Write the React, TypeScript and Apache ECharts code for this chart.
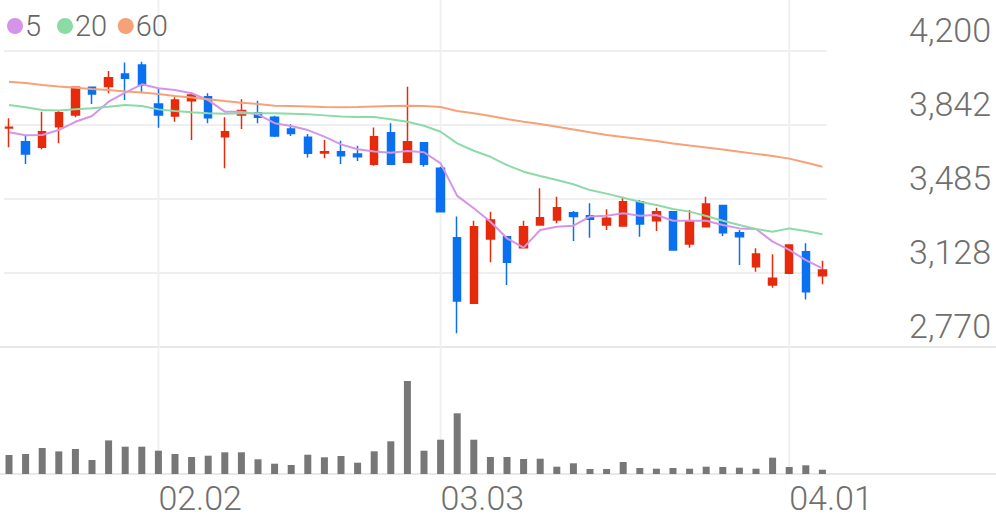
import React, { useEffect, useRef } from "react";
import * as echarts from "echarts";

// ---- data ----
const dates = [
  "01.20", "01.21", "01.22", "01.23", "01.26", "01.27", "01.28", "01.29", "01.30",
  "02.02", "02.03", "02.04", "02.05", "02.06", "02.09", "02.10", "02.11", "02.12", "02.13",
  "02.19", "02.20", "02.23", "02.24", "02.25", "02.26", "02.27",
  "03.03", "03.04", "03.05", "03.06", "03.09", "03.10", "03.11", "03.12", "03.13",
  "03.16", "03.17", "03.18", "03.19", "03.20", "03.23", "03.24", "03.25", "03.26", "03.27",
  "03.30", "03.31", "04.01", "04.02", "04.03",
];
const labelDates = ["02.02", "03.03", "04.01"];

const opens = [
  3828, 3762, 3735, 3834, 3891, 4025, 4028, 4089, 4132, 3944,
  3886, 3960, 3979, 3786, 3891, 3902, 3880, 3823, 3783, 3707,
  3713, 3702, 3653, 3805, 3662, 3757, 3633, 3298, 2981, 3292,
  3303, 3250, 3359, 3384, 3419, 3404, 3359, 3355, 3472, 3380,
  3424, 3268, 3351, 3453, 3322, 3158, 3070, 3126, 3230, 3114,
];
const closes = [
  3832, 3702, 3810, 3902, 4025, 3992, 4071, 4068, 4036, 3891,
  3963, 3987, 3878, 3810, 3912, 3880, 3789, 3802, 3706, 3713,
  3694, 3689, 3786, 3653, 3762, 3653, 3424, 2992, 3351, 3384,
  3179, 3351, 3395, 3443, 3400, 3387, 3392, 3472, 3364, 3424,
  3239, 3380, 3461, 3322, 3303, 3219, 3102, 3263, 3037, 3142,
];
const lows = [
  3735, 3654, 3725, 3754, 3880, 3944, 3996, 3963, 3996, 3829,
  3858, 3770, 3851, 3633, 3823, 3851, 3785, 3789, 3686, 3682,
  3654, 3669, 3646, 3650, 3660, 3641, 3420, 2836, 2979, 3179,
  3070, 3248, 3357, 3368, 3282, 3298, 3335, 3353, 3303, 3330,
  3237, 3250, 3350, 3306, 3166, 3134, 3056, 3125, 3000, 3073,
];
const highs = [
  3875, 3794, 3907, 3912, 4027, 4025, 4103, 4145, 4148, 4020,
  3976, 3999, 3996, 3880, 3967, 3960, 3887, 3846, 3799, 3770,
  3767, 3742, 3831, 3851, 4027, 3760, 3641, 3400, 3380, 3424,
  3305, 3380, 3537, 3496, 3427, 3464, 3435, 3496, 3480, 3443,
  3426, 3432, 3496, 3456, 3335, 3247, 3218, 3266, 3271, 3187,
];
const ma5 = [
  3807, 3793, 3794, 3818, 3858, 3886, 3955, 3999, 4039, 4020,
  4012, 3996, 3963, 3907, 3907, 3894, 3851, 3838, 3818, 3786,
  3749, 3725, 3714, 3709, 3717, 3711, 3657, 3500, 3440, 3375,
  3295, 3250, 3335, 3351, 3356, 3400, 3404, 3416, 3404, 3408,
  3380, 3380, 3380, 3359, 3343, 3340, 3279, 3239, 3190, 3150,
];
const ma20 = [
  3939, 3928, 3915, 3912, 3918, 3923, 3931, 3939, 3934, 3918,
  3910, 3904, 3899, 3897, 3899, 3899, 3899, 3897, 3894, 3889,
  3883, 3881, 3881, 3870, 3858, 3839, 3810, 3754, 3718, 3689,
  3649, 3617, 3596, 3577, 3556, 3528, 3511, 3491, 3472, 3456,
  3437, 3424, 3403, 3380, 3359, 3340, 3327, 3343, 3330, 3315,
];
const ma60 = [
  4052, 4045, 4036, 4028, 4023, 4016, 4012, 4004, 3999, 3992,
  3983, 3975, 3967, 3958, 3950, 3944, 3936, 3934, 3932, 3929,
  3928, 3929, 3932, 3934, 3936, 3934, 3929, 3910, 3899, 3886,
  3871, 3858, 3847, 3834, 3821, 3807, 3794, 3785, 3775, 3765,
  3753, 3743, 3734, 3724, 3713, 3703, 3693, 3680, 3661, 3641,
];
const volumes = [
  190, 200, 260, 226, 250, 140, 336, 273, 273, 233,
  200, 170, 183, 217, 217, 147, 103, 90, 193, 167,
  180, 113, 227, 327, 930, 233, 343, 607, 343, 170,
  170, 150, 153, 73, 107, 50, 50, 120, 60, 53,
  60, 53, 73, 70, 63, 53, 163, 70, 87, 43,
];
const yTickLabels = ["2,770", "3,128", "3,485", "3,842", "4,200"];
const yMin = 2770;
const yMax = 4200;
const yInterval = 357.5;

// ---- styles ----
const UP = "#e62a0c";
const DOWN = "#0a70ef";
const MA_COLORS = ["#d495e9", "#8cdba6", "#f7a178"];
const FONT = "Roboto, 'Noto Sans', sans-serif";
const LABEL_COLOR = "#6f6f6f";

export default function App() {
  const ref = useRef<HTMLDivElement>(null);

  useEffect(() => {
    if (!ref.current) return;
    const chart = echarts.init(ref.current, undefined, { renderer: "svg" });
    const L = 0.7;
    const R = 996 - 830.7;

    const maSeries = [
      { name: "5", data: ma5, color: MA_COLORS[0] },
      { name: "20", data: ma20, color: MA_COLORS[1] },
      { name: "60", data: ma60, color: MA_COLORS[2] },
    ].map((m) => ({
      type: "line",
      name: m.name,
      xAxisIndex: 0,
      yAxisIndex: 0,
      data: m.data,
      symbol: "none",
      showSymbol: false,
      lineStyle: { color: m.color, width: 2 },
      itemStyle: { color: m.color },
      z: 5,
      silent: true,
    }));

    const legendPos: [string, number][] = [
      ["5", 2],
      ["20", 52],
      ["60", 112.7],
    ];

    const option: any = {
      animation: false,
      backgroundColor: "#ffffff",
      textStyle: { fontFamily: FONT },
      legend: legendPos.map(([n, l]) => ({
        data: [{ name: n, icon: "circle" }],
        left: l,
        top: 6,
        itemWidth: 16,
        itemHeight: 16,
        itemGap: 0,
        selectedMode: false,
        textStyle: {
          fontSize: 29,
          lineHeight: 30,
          color: "#666666",
          fontFamily: FONT,
          fontWeight: 300,
          padding: [0, 0, 0, -3],
        },
      })),
      grid: [
        { left: L, right: R, top: 51, height: 296 },
        { left: L, right: R, top: 374, height: 100 },
        { left: 4, right: 169, top: 51, height: 296 },
        { left: 0, right: 0, top: 51, height: 296 },
        { left: 0, right: 0, top: 374, height: 100 },
        { left: L, right: R, top: 0, height: 474 },
      ],
      xAxis: [
        { type: "category", gridIndex: 0, data: dates, show: false },
        {
          type: "category",
          gridIndex: 1,
          data: dates,
          axisLine: { show: false },
          axisTick: { show: false },
          splitLine: { show: false },
          axisLabel: {
            interval: (_i: number, v: string) => labelDates.includes(v),
            align: "left",
            margin: 7,
            fontSize: 34,
            lineHeight: 34,
            color: LABEL_COLOR,
            fontFamily: FONT,
            fontWeight: 300,
          },
        },
        { type: "value", gridIndex: 2, min: 0, max: 1, show: false },
        {
          type: "value",
          gridIndex: 3,
          min: 0,
          max: 1,
          axisLine: { show: true, lineStyle: { color: "#e8e8e8", width: 2 } },
          axisTick: { show: false },
          axisLabel: { show: false },
          splitLine: { show: false },
        },
        {
          type: "value",
          gridIndex: 4,
          min: 0,
          max: 1,
          axisLine: { show: true, lineStyle: { color: "#e8e8e8", width: 2 } },
          axisTick: { show: false },
          axisLabel: { show: false },
          splitLine: { show: false },
        },
        { type: "category", gridIndex: 5, data: dates, show: false },
      ],
      yAxis: [
        { type: "value", gridIndex: 0, min: yMin, max: yMax, show: false },
        { type: "value", gridIndex: 1, min: 0, max: 1000, show: false },
        {
          type: "value",
          gridIndex: 2,
          min: yMin,
          max: yMax,
          interval: yInterval,
          position: "right",
          axisLine: { show: false },
          axisTick: { show: false },
          splitLine: { show: true, lineStyle: { color: "#efefef", width: 2 } },
          axisLabel: {
            align: "right",
            verticalAlign: "bottom",
            margin: 164,
            fontSize: 34,
            lineHeight: 34,
            padding: [0, 0, 4, 0],
            color: LABEL_COLOR,
            fontFamily: FONT,
            fontWeight: 300,
            formatter: (v: number) => yTickLabels[Math.round((v - yMin) / yInterval)],
          },
        },
        { type: "value", gridIndex: 3, min: 0, max: 1, show: false },
        { type: "value", gridIndex: 4, min: 0, max: 1, show: false },
        { type: "value", gridIndex: 5, min: 0, max: 1, show: false },
      ],
      series: [
        {
          type: "bar",
          name: "vlines",
          xAxisIndex: 5,
          yAxisIndex: 5,
          data: dates.map((d) => (labelDates.includes(d) ? 1 : "-")),
          barWidth: 2,
          itemStyle: { color: "#f0f0f0" },
          z: 0,
          silent: true,
        },
        {
          type: "candlestick",
          name: "price",
          xAxisIndex: 0,
          yAxisIndex: 0,
          data: dates.map((_d, i) => [opens[i], closes[i], lows[i], highs[i]]),
          barWidth: 8,
          itemStyle: {
            color: UP,
            color0: DOWN,
            borderColor: UP,
            borderColor0: DOWN,
            borderWidth: 1.5,
          },
          z: 3,
          silent: true,
        },
        ...maSeries,
        {
          type: "bar",
          name: "volume",
          xAxisIndex: 1,
          yAxisIndex: 1,
          data: volumes,
          barWidth: 7,
          itemStyle: { color: "#777777" },
          z: 3,
          silent: true,
        },
      ],
    };

    chart.setOption(option);
    return () => chart.dispose();
  }, []);

  return (
    <div
      ref={ref}
      style={{ position: "fixed", left: 0, top: 0, width: 996, height: 519, background: "#fff" }}
    />
  );
}
